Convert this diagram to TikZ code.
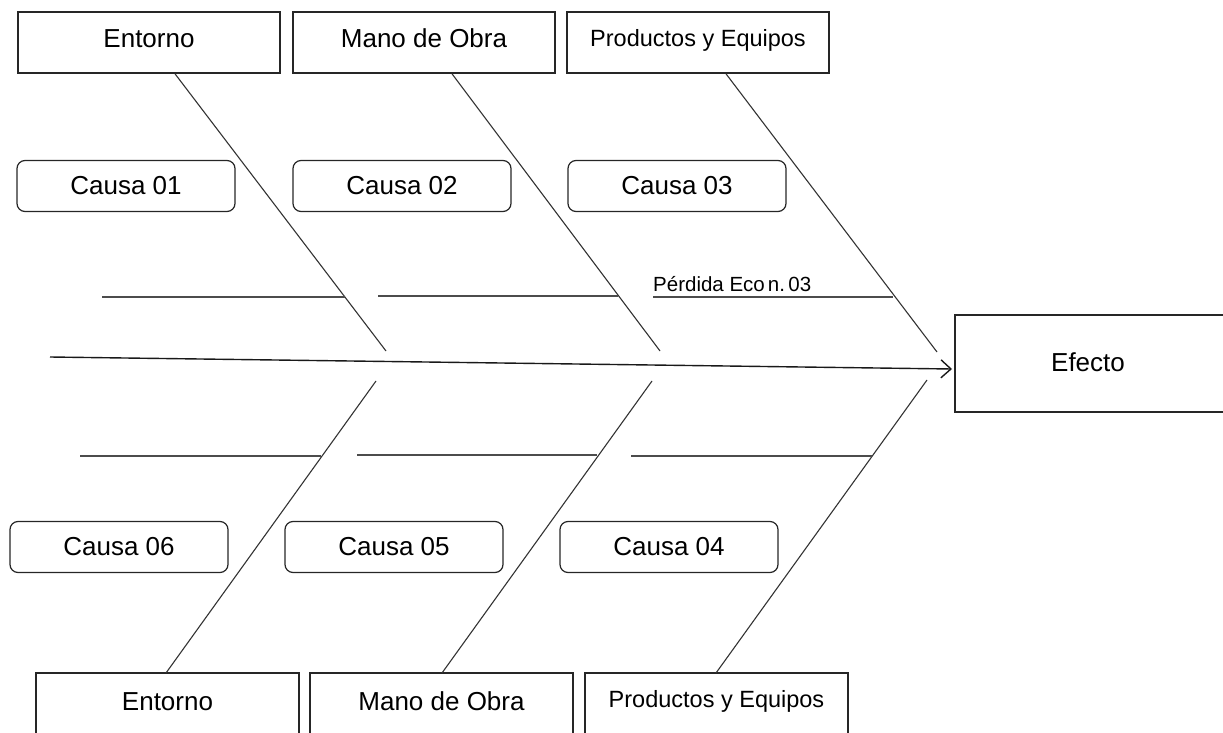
\documentclass[tikz,border=0pt]{standalone}
\usepackage{fontspec}
\setmainfont{Liberation Sans}
\usetikzlibrary{arrows.meta}
\tikzset{
  x=1pt, y=-1pt,
  catbox/.style={draw=black!85, line width=1.6pt, minimum width=262pt, minimum height=61pt, inner sep=0pt, text height=19pt, text depth=8pt, font=\fontsize{26}{30}\selectfont},
  causebox/.style={draw=black!85, line width=1.2pt, rounded corners=8pt, minimum width=218pt, minimum height=51pt, inner sep=0pt, font=\fontsize{26}{30}\selectfont},
  txt/.style={inner sep=0pt, anchor=base, font=\fontsize{26}{30}\selectfont},
  bone/.style={draw=black!80, line width=1.1pt},
  twig/.style={draw=black!70, line width=1.3pt},
  edge/.style={draw=black!85, line width=1.6pt},
}
\begin{document}
\begin{tikzpicture}
\useasboundingbox (0,0) rectangle (1223,733);
\clip (0,0) rectangle (1223,733);

% category boxes, upper row
\node[catbox] (t1) at (149,42.5) {Entorno};
\node[catbox] (t2) at (424,42.5) {Mano de Obra};
\node[catbox, text height=17pt, text depth=9pt, font=\fontsize{23.5}{28}\selectfont] (t3) at (698,42.5) {Productos y Equipos};

% cause boxes, upper row
\node[causebox] (c1) at (126,186) {Causa 01};
\node[causebox] (c2) at (402,186) {Causa 02};
\node[causebox] (c3) at (677,186) {Causa 03};

% cause boxes, lower row
\node[causebox] (c6) at (119,547) {Causa 06};
\node[causebox] (c5) at (394,547) {Causa 05};
\node[causebox] (c4) at (669,547) {Causa 04};

% category boxes, lower row (open at the page edge)
\draw[edge] (36,745) -- (36,673) -- (299,673) -- (299,745);
\draw[edge] (310,745) -- (310,673) -- (573,673) -- (573,745);
\draw[edge] (585,745) -- (585,673) -- (848,673) -- (848,745);
\node[txt] (b1) at (167.5,710) {Entorno};
\node[txt] (b2) at (441.5,710) {Mano de Obra};
\node[txt, font=\fontsize{23.5}{28}\selectfont] (b3) at (716.5,707) {Productos y Equipos};

% effect box (open at the right edge)
\draw[edge] (1235,315) -- (955,315) -- (955,412) -- (1235,412);
\node[txt] (ef) at (1088,371) {Efecto};
\coordinate (efw) at (952,369);

% spine
\coordinate (tail) at (50,357);
\draw[black!90, line width=1.4pt, -{Straight Barb[length=10pt,width=18pt,line width=1.4pt]}] (tail) -- (efw);

% upper bones
\coordinate (u1) at (386,351);
\coordinate (u2) at (660,351);
\coordinate (u3) at (937,352);
\draw[bone] ([xshift=26pt]t1.south) -- (u1);
\draw[bone] ([xshift=28pt]t2.south) -- (u2);
\draw[bone] ([xshift=28pt]t3.south) -- (u3);

% lower bones
\coordinate (l1) at (376,381);
\coordinate (l2) at (652,381);
\coordinate (l3) at (927,380);
\coordinate (bb1) at (166,673);
\coordinate (bb2) at (442,673);
\coordinate (bb3) at (716,673);
\draw[bone] (l1) -- (bb1);
\draw[bone] (l2) -- (bb2);
\draw[bone] (l3) -- (bb3);

% sub-causes, upper
\coordinate (s1a) at (102,297); \coordinate (s1b) at (345,297);
\coordinate (s2a) at (378,296); \coordinate (s2b) at (618,296);
\coordinate (s3a) at (653,297); \coordinate (s3b) at (893,297);
\draw[twig] (s1a) -- (s1b);
\draw[twig] (s2a) -- (s2b);
\draw[twig] (s3a) -- (s3b);
\node[inner sep=0pt, anchor=base west, font=\fontsize{20.5}{24}\selectfont] (lbl) at (653,291) {Pérdida Eco\hspace{3pt}n.\,03};

% sub-causes, lower
\coordinate (s4a) at (80,456);  \coordinate (s4b) at (321,456);
\coordinate (s5a) at (357,455); \coordinate (s5b) at (597,455);
\coordinate (s6a) at (631,456); \coordinate (s6b) at (872,456);
\draw[twig] (s4a) -- (s4b);
\draw[twig] (s5a) -- (s5b);
\draw[twig] (s6a) -- (s6b);
\end{tikzpicture}
\end{document}
